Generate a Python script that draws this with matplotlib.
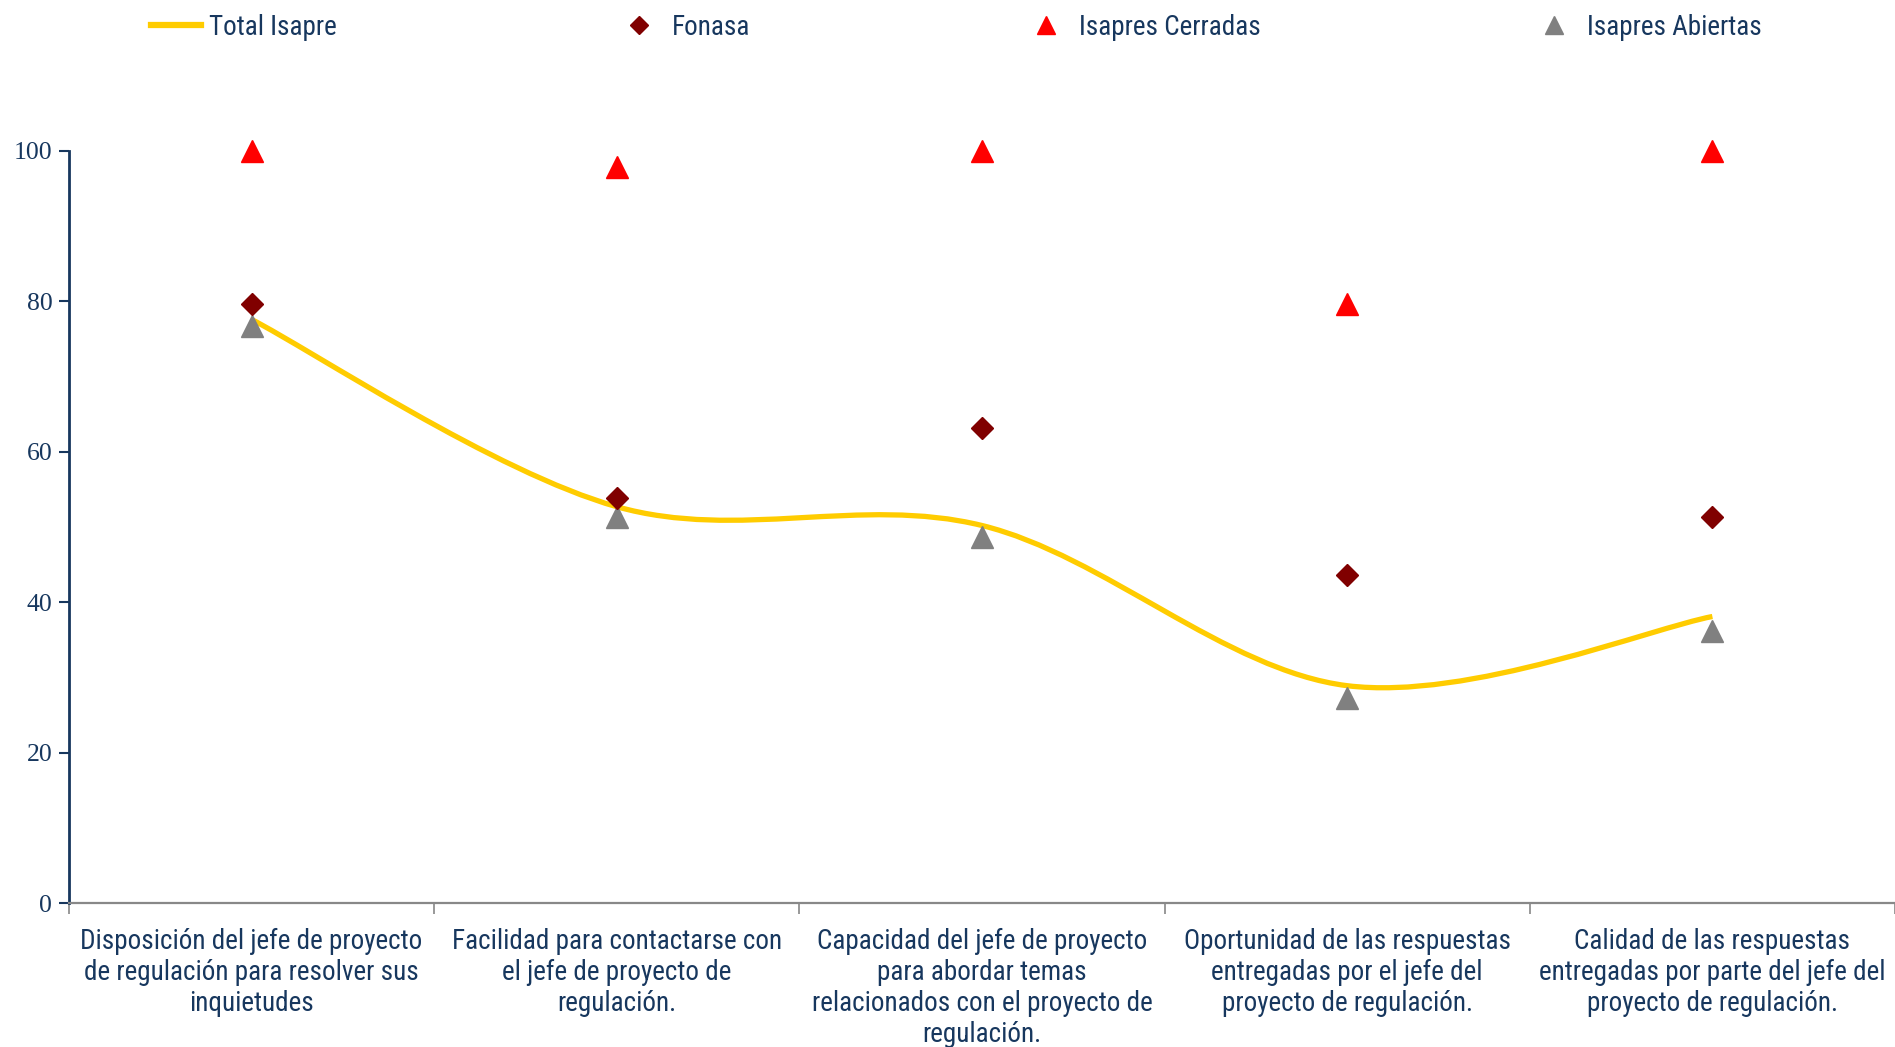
import matplotlib
matplotlib.use('Agg')
import matplotlib.pyplot as plt
from matplotlib.path import Path
from matplotlib.patches import PathPatch
from matplotlib.lines import Line2D
from matplotlib import font_manager

# data
categories = [
    'Disposición del jefe de proyecto\nde regulación para resolver sus\ninquietudes',
    'Facilidad para contactarse con\nel jefe de proyecto de\nregulación.',
    'Capacidad del jefe de proyecto\npara abordar temas\nrelacionados con el proyecto de\nregulación.',
    'Oportunidad de las respuestas\nentregadas por el jefe del\nproyecto de regulación.',
    'Calidad de las respuestas\nentregadas por parte del jefe del\nproyecto de regulación.',
]
total_isapre = [77.6, 52.7, 50.2, 28.9, 38.1]
fonasa = [79.7, 53.9, 63.2, 43.6, 51.3]
isapres_cerradas = [100.0, 97.9, 100.0, 79.6, 100.0]
isapres_abiertas = [76.7, 51.3, 48.7, 27.3, 36.2]
y_ticks = [0, 20, 40, 60, 80, 100]

TEXT = '#17375E'
names = {f.name for f in font_manager.fontManager.ttflist}
NARROW = next((n for n in ['Liberation Sans Narrow', 'Roboto Condensed', 'DejaVu Sans Condensed', 'Lato']
               if n in names), 'DejaVu Sans')


def smooth_path(xs, ys):
    """Excel style smoothed line: cubic Bezier segments with Catmull-Rom control points."""
    pts = list(zip(xs, ys))
    n = len(pts)
    verts = [pts[0]]
    codes = [Path.MOVETO]
    for i in range(n - 1):
        p0 = pts[i - 1] if i > 0 else pts[i]
        p1 = pts[i]
        p2 = pts[i + 1]
        p3 = pts[i + 2] if i + 2 < n else pts[i + 1]
        c1 = (p1[0] + (p2[0] - p0[0]) / 6, p1[1] + (p2[1] - p0[1]) / 6)
        c2 = (p2[0] - (p3[0] - p1[0]) / 6, p2[1] - (p3[1] - p1[1]) / 6)
        verts += [c1, c2, p2]
        codes += [Path.CURVE4] * 3
    return Path(verts, codes)


fig = plt.figure(figsize=(18.95, 10.47), dpi=100)
ax = fig.add_axes([0.0364, 0.1375, 0.9636, 0.7183])

x = list(range(1, len(categories) + 1))
ax.add_patch(PathPatch(smooth_path(x, total_isapre), facecolor='none',
                       edgecolor='#FFCC00', lw=3.8, capstyle='butt', zorder=2))
ax.plot(x, isapres_abiertas, ls='none', marker='^', ms=15.5, color='#808080', zorder=3, clip_on=False)
ax.plot(x, fonasa, ls='none', marker='D', ms=11, color='#800000', zorder=4, clip_on=False)
ax.plot(x, isapres_cerradas, ls='none', marker='^', ms=15.5, color='#FF0000', zorder=4, clip_on=False)

ax.set_xlim(0.5, len(categories) + 0.5)
ax.set_ylim(0, 100)
ax.set_yticks(y_ticks)
ax.set_yticklabels([str(v) for v in y_ticks], family='Liberation Serif', fontsize=18.5, color=TEXT)
ax.tick_params(axis='y', direction='out', length=7, width=1.5, color=TEXT, pad=5)

# category boundaries carry the ticks, labels sit at the centres
ax.set_xticks([v + 0.5 for v in range(len(categories) + 1)])
ax.set_xticklabels([])
ax.set_xticks(x, minor=True)
ax.set_xticklabels(categories, minor=True, family=NARROW, fontsize=19.5,
                   color=TEXT, linespacing=1.19, va='top')
ax.tick_params(axis='x', which='major', direction='out', length=8, width=1.2, color='#888888')
ax.tick_params(axis='x', which='minor', length=0, pad=18)

for s in ['top', 'right']:
    ax.spines[s].set_visible(False)
ax.spines['left'].set_color(TEXT)
ax.spines['left'].set_linewidth(2)
ax.spines['bottom'].set_color('#888888')
ax.spines['bottom'].set_linewidth(1.6)

# legend entries spread across the top
entries = [
    (Line2D([], [], color='#FFCC00', lw=4.5), 'Total Isapre', 0.0725),
    (Line2D([], [], ls='none', marker='D', ms=9, color='#800000'), 'Fonasa', 0.3215),
    (Line2D([], [], ls='none', marker='^', ms=13, color='#FF0000'), 'Isapres Cerradas', 0.5365),
    (Line2D([], [], ls='none', marker='^', ms=13, color='#808080'), 'Isapres Abiertas', 0.8045),
]
for handle, label, xpos in entries:
    hl = 1.85 if label == 'Total Isapre' else 1.2
    fig.legend([handle], [label], loc='center left', bbox_to_anchor=(xpos, 0.974),
               frameon=False, handlelength=hl, handletextpad=0.3 if hl > 1.5 else 0.6,
               prop={'family': NARROW, 'size': 19.5}, labelcolor=TEXT, borderpad=0)

fig.savefig('out.png', dpi=100)
